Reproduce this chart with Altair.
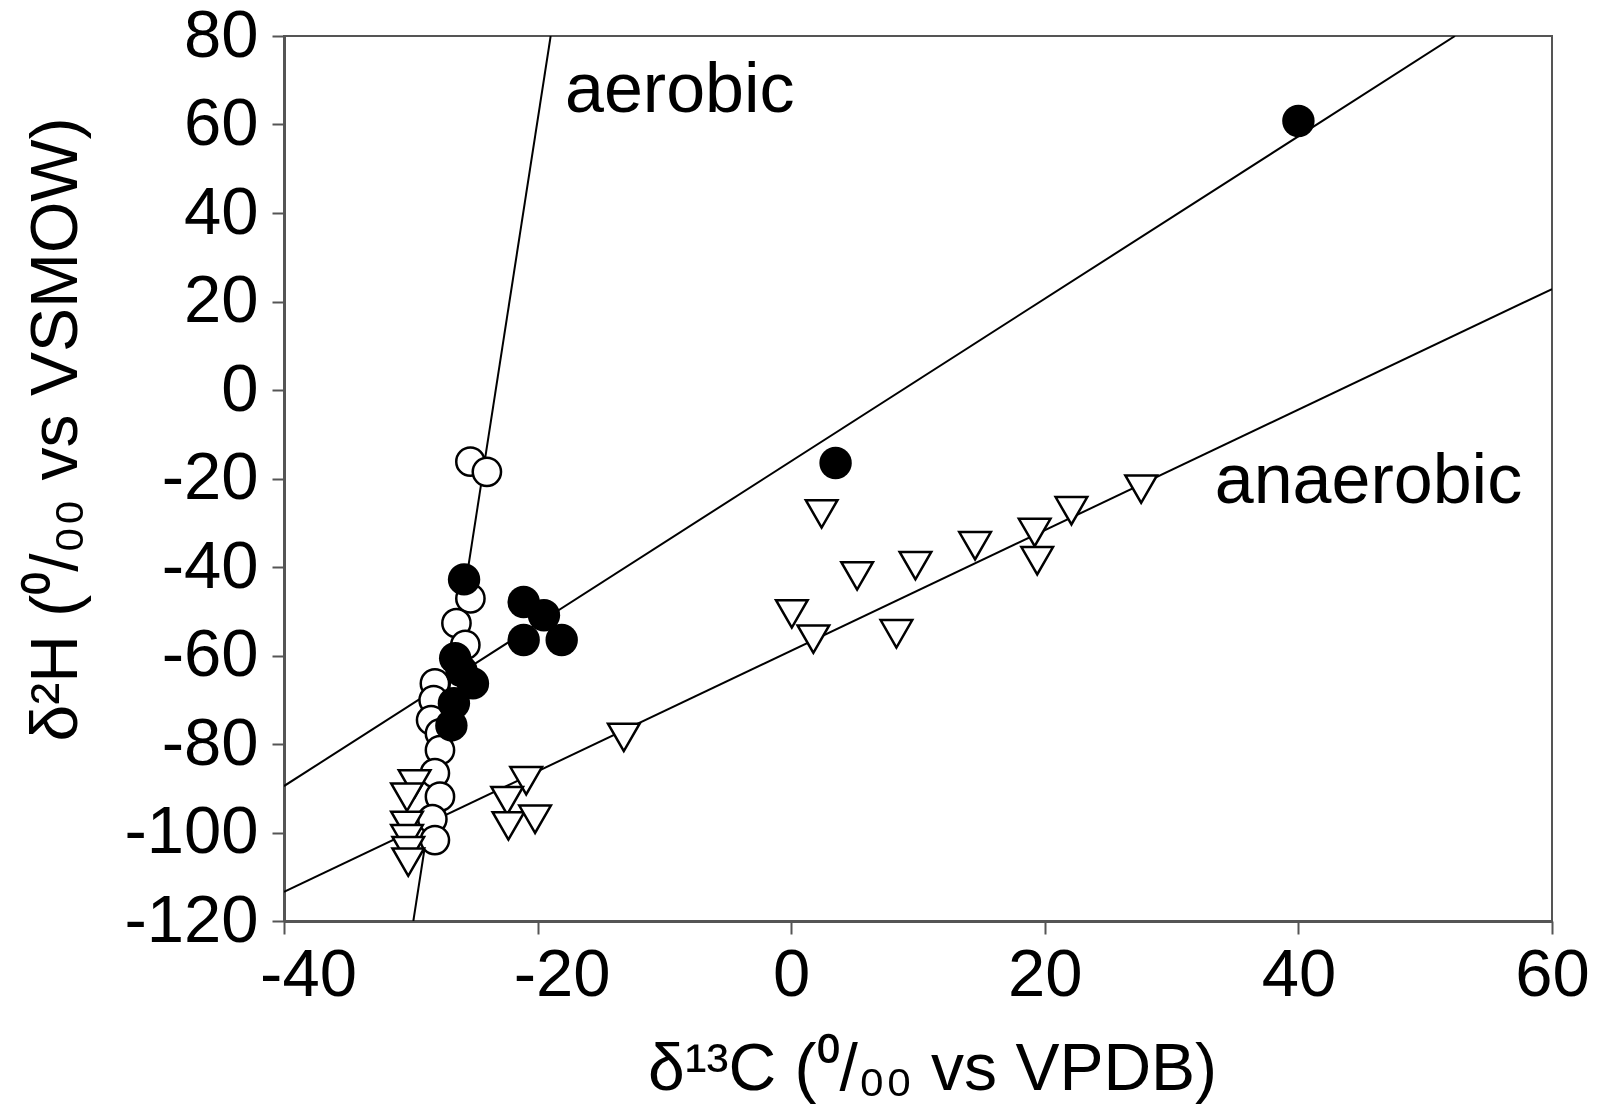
import altair as alt
import pandas as pd

# ---- data ----
filled_x = [40.0, 3.5, -25.8, -21.1, -19.5, -21.1, -18.1, -26.5, -26.0, -25.1, -26.6, -26.8]
filled_y = [60.8, -16.5, -42.8, -47.9, -50.9, -56.5, -56.5, -60.6, -63.5, -66.3, -70.8, -75.8]

open_x = [-25.3, -24.0, -25.3, -26.4, -25.7, -28.1, -28.2, -28.4, -27.7, -27.7, -28.1, -27.7, -28.3, -28.1]
open_y = [-16.2, -18.5, -47.1, -52.7, -57.6, -66.3, -70.1, -74.6, -77.6, -81.4, -86.6, -91.9, -97.0, -101.7]

tri_x = [2.4, 5.2, 9.8, 0.05, 1.75, 8.3, 14.5, 19.2, 19.4, 22.1, 27.6,
         -13.2, -20.9, -22.4, -22.3, -20.2, -29.7, -30.3, -30.3, -30.3, -30.2, -30.2]
tri_y = [-28.0, -42.0, -39.7, -50.6, -56.3, -55.1, -35.2, -32.2, -38.6, -27.3, -22.4,
         -78.5, -88.3, -92.8, -98.5, -97.0, -89.0, -92.0, -98.4, -101.4, -104.1, -106.7]

aerobic_line_x = [-29.8, -18.97]
aerobic_line_y = [-120, 80]
middle_line_x = [-40, 52.35]
middle_line_y = [-89.5, 80]
anaerobic_line_x = [-40, 60]
anaerobic_line_y = [-113.4, 22.8]

label_text = ["aerobic", "anaerobic"]
label_x = [-17.84, 33.4]
label_y = [62.8, -25.5]

x_ticks = [-40, -20, 0, 20, 40, 60]
y_ticks = [-120, -100, -80, -60, -40, -20, 0, 20, 40, 60, 80]

# ---- tables ----
filled_df = pd.DataFrame({"x": filled_x, "y": filled_y})
open_df = pd.DataFrame({"x": open_x, "y": open_y})
tri_df = pd.DataFrame({"x": tri_x, "y": tri_y})
lines_df = pd.DataFrame({
    "x": aerobic_line_x + middle_line_x + anaerobic_line_x,
    "y": aerobic_line_y + middle_line_y + anaerobic_line_y,
    "line": ["aerobic"] * 2 + ["middle"] * 2 + ["anaerobic"] * 2,
})
labels_df = pd.DataFrame({"x": label_x, "y": label_y, "text": label_text})

FONT = "Liberation Sans"
HYPHEN = "replace(datum.label, '\u2212', '-')"

x_enc = alt.X(
    "x:Q",
    scale=alt.Scale(domain=[-40, 60], nice=False, zero=False),
    axis=alt.Axis(
        values=x_ticks,
        labelExpr=HYPHEN,
        labelFlush=False,
        title="δ¹³C (⁰/₀₀ vs VPDB)",
        titleFont=FONT, titleFontSize=66, titleFontWeight="normal", titleColor="black",
        titleX=648, titleY=168, titleAlign="center", titleBaseline="alphabetic",
        labelFont=FONT, labelFontSize=67, labelColor="black",
        labelPadding=8, tickSize=13, tickColor="#555", tickWidth=2,
        labelOffset={"condition": {"test": "datum.value < 0", "value": 24}, "value": 0},
        domainColor="#555", domainWidth=3, grid=False,
    ),
)
y_enc = alt.Y(
    "y:Q",
    scale=alt.Scale(domain=[-120, 80], nice=False, zero=False),
    axis=alt.Axis(
        values=y_ticks,
        labelExpr=HYPHEN,
        title="δ²H (⁰/₀₀ vs VSMOW)",
        titleFont=FONT, titleFontSize=66, titleFontWeight="normal", titleColor="black",
        titleX=-228, titleY=393, titleAngle=270, titleAlign="center", titleBaseline="middle",
        labelFont=FONT, labelFontSize=67, labelColor="black",
        labelPadding=14, tickSize=12, tickColor="#555", tickWidth=2,
        domainColor="#555", domainWidth=3, grid=False,
    ),
)

lines = alt.Chart(lines_df).mark_line(color="black", strokeWidth=2, clip=True).encode(
    x=x_enc, y=y_enc, detail="line:N"
)
opens = alt.Chart(open_df).mark_point(
    shape="circle", size=800, filled=True, fill="white", stroke="black", strokeWidth=2.5, opacity=1
).encode(x=x_enc, y=y_enc)
tris = alt.Chart(tri_df).mark_point(
    shape="triangle-down", size=1000, filled=True, fill="white", stroke="black", strokeWidth=2.5, opacity=1
).encode(x=x_enc, y=y_enc)
filled = alt.Chart(filled_df).mark_point(
    shape="circle", size=1050, filled=True, fill="black", stroke="black", strokeWidth=0, opacity=1
).encode(x=x_enc, y=y_enc)
texts = alt.Chart(labels_df).mark_text(
    align="left", baseline="alphabetic", font=FONT, fontSize=70, color="black"
).encode(x=x_enc, y=y_enc, text="text:N")

chart = alt.layer(lines, opens, tris, filled, texts).properties(
    width=1268, height=885,
    autosize=alt.AutoSizeParams(type="none"),
    padding={"left": 276, "top": 28, "right": 40, "bottom": 188},
).configure_view(stroke="#555", strokeWidth=2)

chart.save("out.html", embed_options={"renderer": "svg", "actions": False})
